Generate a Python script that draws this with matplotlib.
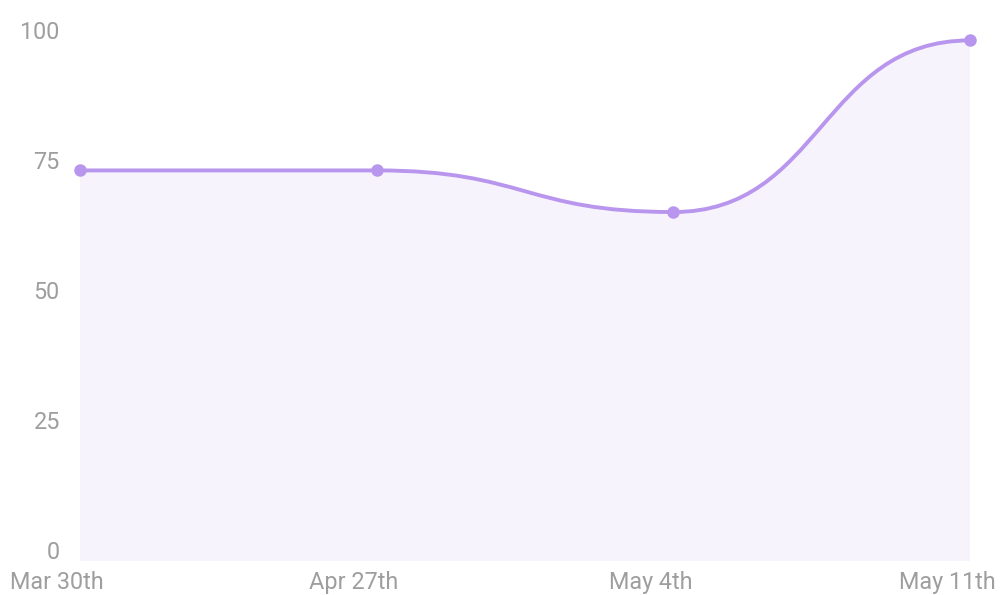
import matplotlib
matplotlib.use("Agg")
import matplotlib.pyplot as plt
from matplotlib.path import Path
from matplotlib.patches import PathPatch
import matplotlib.transforms as mtransforms

# data
dates = ["Mar 30th", "Apr 27th", "May 4th", "May 11th"]
values = [73, 73, 65, 98]
yticks = [0, 25, 50, 75, 100]

line_col = "#b996ee"
fill_col = "#f7f3fd"
text_col = "#9e9e9e"

plt.rcParams["font.family"] = ["Roboto", "DejaVu Sans"]

fig = plt.figure(figsize=(10.01, 5.95), dpi=100)
ax = fig.add_axes([80 / 1001, 34 / 595, 890 / 1001, (561 - 19.6) / 595])

xs = list(range(len(values)))
ymin, ymax = -2.1, 102

# smooth curve: cubic segments with horizontal handles at the half-way point
verts = [(xs[0], values[0])]
codes = [Path.MOVETO]
for i in range(len(xs) - 1):
    xm = (xs[i] + xs[i + 1]) / 2
    verts += [(xm, values[i]), (xm, values[i + 1]), (xs[i + 1], values[i + 1])]
    codes += [Path.CURVE4] * 3

line_path = Path(verts, codes)
fill_path = Path(verts + [(xs[-1], ymin), (xs[0], ymin), (xs[0], values[0])],
                 codes + [Path.LINETO, Path.LINETO, Path.CLOSEPOLY])

ax.add_patch(PathPatch(fill_path, facecolor=fill_col, edgecolor="none", zorder=1))
ax.add_patch(PathPatch(line_path, facecolor="none", edgecolor=line_col, lw=2.8,
                       capstyle="round", zorder=2))
ax.plot(xs, values, "o", color=line_col, ms=8, zorder=3, clip_on=False)

ax.set_xlim(0, 3)
ax.set_ylim(ymin, ymax)
ax.set_yticks(yticks)
ax.set_xticks(xs)
ax.set_xticklabels(dates)
ax.tick_params(length=0, colors=text_col, labelsize=16.8)
ax.tick_params(axis="y", pad=14.5)
ax.tick_params(axis="x", pad=7)

# x labels sit a bit left of their points
offset = mtransforms.ScaledTranslation(-23 / 100, 0, fig.dpi_scale_trans)
for lab in ax.get_xticklabels():
    lab.set_transform(lab.get_transform() + offset)

for s in ax.spines.values():
    s.set_visible(False)

fig.savefig("out.png", dpi=100)
